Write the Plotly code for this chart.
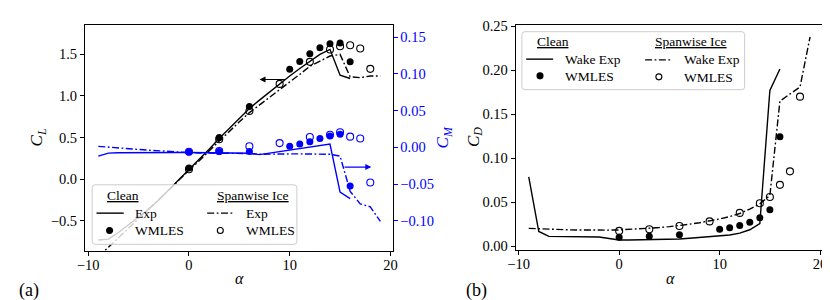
import plotly.graph_objects as go

# ---------------- data ----------------
alpha_exp_clean = list(range(-9, 17))
cl_exp_clean = [-0.73, -0.72, -0.64, -0.55, -0.46, -0.36, -0.25, -0.13, -0.01, 0.12,
                0.24, 0.36, 0.49, 0.61, 0.73, 0.85, 0.95, 1.05, 1.15, 1.24,
                1.33, 1.42, 1.50, 1.56, 1.25, 1.21]
cm_exp_clean = [-0.012, -0.008, -0.0075, -0.0073, -0.0072, -0.0072, -0.0072, -0.0072, -0.0072, -0.0072,
                -0.0073, -0.0074, -0.0075, -0.0076, -0.0078, -0.0082, -0.010, -0.008, -0.006, -0.004,
                -0.002, 0.000, 0.002, 0.0043, -0.061, -0.070]

alpha_exp_ice = list(range(-9, 20))
cl_exp_ice = [-0.93, -0.82, -0.70, -0.59, -0.47, -0.36, -0.24, -0.13, -0.01, 0.10,
              0.22, 0.34, 0.46, 0.57, 0.69, 0.80, 0.89, 0.98, 1.075, 1.17,
              1.26, 1.357, 1.42, 1.48, 1.50, 1.23, 1.22, 1.24, 1.24]
cm_exp_ice = [0.0013, 0.000, -0.001, -0.002, -0.003, -0.004, -0.005, -0.006, -0.0066, -0.0072,
              -0.0078, -0.008, -0.008, -0.008, -0.008, -0.0085, -0.0095, -0.009, -0.009, -0.009,
              -0.009, -0.009, -0.0092, -0.0095, -0.012, -0.060, -0.077, -0.081, -0.101]

alpha_les_clean = [0, 3, 6, 10, 11, 12, 13, 14, 15, 16]
cl_les_clean = [0.136, 0.50, 0.874, 1.32, 1.415, 1.508, 1.578, 1.628, 1.636, 1.41]
cm_les_clean = [-0.0066, -0.0058, -0.0058, 0.0013, 0.0043, 0.0074, 0.0118, 0.0153, 0.0179, -0.0526]
cd_les_clean = [0.0099, 0.011, 0.0128, 0.019, 0.0209, 0.0234, 0.0271, 0.0322, 0.0414, 0.1245]

alpha_les_ice = [0, 3, 6, 9, 12, 14, 15, 16, 17, 18]
cl_les_ice = [0.12, 0.48, 0.82, 1.145, 1.41, 1.558, 1.597, 1.61, 1.57, 1.326]
cm_les_ice = [-0.006, -0.005, 0.0013, 0.0057, 0.014, 0.017, 0.0205, 0.0145, 0.012, -0.048]
cd_les_ice = [0.0172, 0.019, 0.0227, 0.028, 0.0377, 0.0487, 0.0557, 0.0696, 0.085, 0.170]

alpha_cd_clean = [-9, -8, -7, -6, -5, -4, -3, -2, -1, 0, 1, 2, 3, 4, 5, 6, 7, 8, 9, 10, 11, 12, 13, 14, 15, 16]
cd_exp_clean = [0.0788, 0.0165, 0.011, 0.0108, 0.0106, 0.0105, 0.0104, 0.0102, 0.0085, 0.0068,
                0.0068, 0.0069, 0.0071, 0.0073, 0.0076, 0.008, 0.0088, 0.0096, 0.0104, 0.011,
                0.0125, 0.0146, 0.0185, 0.0256, 0.177, 0.2015]
alpha_cd_ice = list(range(-9, 20))
cd_exp_ice = [0.0201, 0.0195, 0.019, 0.0187, 0.0184, 0.0182, 0.018, 0.018, 0.0181, 0.0183,
              0.0188, 0.0194, 0.020, 0.021, 0.022, 0.0232, 0.0248, 0.0265, 0.0285, 0.0308,
              0.0335, 0.037, 0.042, 0.048, 0.0575, 0.165, 0.173, 0.181, 0.238]

xticks = [-10, 0, 10, 20]
xtick_text = ["\u221210", "0", "10", "20"]
cl_ticks = [-0.5, 0.0, 0.5, 1.0, 1.5]
cl_tick_text = ["\u22120.5", "0.0", "0.5", "1.0", "1.5"]
cm_ticks = [-0.10, -0.05, 0.0, 0.05, 0.10, 0.15]
cm_tick_text = ["\u22120.10", "\u22120.05", "0.00", "0.05", "0.10", "0.15"]
cd_ticks = [0.0, 0.05, 0.10, 0.15, 0.20, 0.25]
cd_tick_text = ["0.00", "0.05", "0.10", "0.15", "0.20", "0.25"]

# ---------------- styling ----------------
W, H = 830, 300
FONT = "Liberation Serif, Times New Roman, serif"
LW = 1.4
DASHDOT = "7px,2.5px,1.8px,2.5px"
MS = 7
BLUE = "#0000ff"


def px(x):
    return x / W


def py(y):
    return 1 - y / H


fig = go.Figure()

# ---- left panel: CL ----
fig.add_trace(go.Scatter(x=alpha_exp_clean, y=cl_exp_clean, mode="lines",
                         line=dict(color="black", width=LW), xaxis="x", yaxis="y"))
fig.add_trace(go.Scatter(x=alpha_exp_ice, y=cl_exp_ice, mode="lines",
                         line=dict(color="black", width=LW, dash=DASHDOT), xaxis="x", yaxis="y"))
fig.add_trace(go.Scatter(x=alpha_les_clean, y=cl_les_clean, mode="markers",
                         marker=dict(color="black", size=MS, symbol="circle"), xaxis="x", yaxis="y"))
fig.add_trace(go.Scatter(x=alpha_les_ice, y=cl_les_ice, mode="markers",
                         marker=dict(color="black", size=MS, symbol="circle-open", line=dict(width=1.1)),
                         xaxis="x", yaxis="y"))
# ---- left panel: CM ----
fig.add_trace(go.Scatter(x=alpha_exp_clean, y=cm_exp_clean, mode="lines",
                         line=dict(color=BLUE, width=LW), xaxis="x", yaxis="y2"))
fig.add_trace(go.Scatter(x=alpha_exp_ice, y=cm_exp_ice, mode="lines",
                         line=dict(color=BLUE, width=LW, dash=DASHDOT), xaxis="x", yaxis="y2"))
fig.add_trace(go.Scatter(x=alpha_les_clean, y=cm_les_clean, mode="markers",
                         marker=dict(color=BLUE, size=MS, symbol="circle"), xaxis="x", yaxis="y2"))
fig.add_trace(go.Scatter(x=alpha_les_ice, y=cm_les_ice, mode="markers",
                         marker=dict(color=BLUE, size=MS, symbol="circle-open", line=dict(width=1.1)),
                         xaxis="x", yaxis="y2"))
# ---- right panel: CD ----
fig.add_trace(go.Scatter(x=alpha_cd_clean, y=cd_exp_clean, mode="lines",
                         line=dict(color="black", width=LW), xaxis="x2", yaxis="y3"))
fig.add_trace(go.Scatter(x=alpha_cd_ice, y=cd_exp_ice, mode="lines",
                         line=dict(color="black", width=LW, dash=DASHDOT), xaxis="x2", yaxis="y3"))
fig.add_trace(go.Scatter(x=alpha_les_clean, y=cd_les_clean, mode="markers",
                         marker=dict(color="black", size=MS, symbol="circle"), xaxis="x2", yaxis="y3"))
fig.add_trace(go.Scatter(x=alpha_les_ice, y=cd_les_ice, mode="markers",
                         marker=dict(color="black", size=MS, symbol="circle-open", line=dict(width=1.1)),
                         xaxis="x2", yaxis="y3"))

tickfont = dict(family=FONT, size=14.5, color="black")
common_x = dict(showline=True, linecolor="black", linewidth=1, mirror=True, ticks="outside",
                ticklen=4, tickwidth=1, tickcolor="black", showgrid=False, zeroline=False,
                ticklabelstandoff=-3,
                tickfont=tickfont, tickvals=xticks, ticktext=xtick_text)

fig.update_layout(
    width=W, height=H, margin=dict(l=0, r=0, t=0, b=0),
    paper_bgcolor="white", plot_bgcolor="white", showlegend=False,
    font=dict(family=FONT),
    xaxis=dict(domain=[px(70), px(383)], range=[-10.32, 20.3], anchor="y", **common_x),
    yaxis=dict(domain=[py(245), py(11)], range=[-0.86, 1.857], anchor="x",
               showline=True, linecolor="black", linewidth=1, mirror=True, ticks="outside",
               ticklen=4, tickwidth=1, tickcolor="black", showgrid=False, zeroline=False,
               tickfont=tickfont, tickvals=cl_ticks, ticktext=cl_tick_text),
    yaxis2=dict(overlaying="y", side="right", anchor="x", range=[-0.141, 0.167],
                showline=False, ticks="outside", ticklen=4, tickwidth=1, tickcolor=BLUE,
                showgrid=False, zeroline=False, ticklabelstandoff=-1,
                tickfont=dict(family=FONT, size=14.5, color=BLUE),
                tickvals=cm_ticks, ticktext=cm_tick_text),
    xaxis2=dict(domain=[px(507), px(821)], range=[-10.3, 20.5], anchor="y3", **common_x),
    yaxis3=dict(domain=[py(244), py(11)], range=[-0.0044, 0.252], anchor="x2",
                showline=True, linecolor="black", linewidth=1, mirror=True, ticks="outside",
                ticklen=4, tickwidth=1, tickcolor="black", showgrid=False, zeroline=False,
                tickfont=tickfont, tickvals=cd_ticks, ticktext=cd_tick_text),
)

annotations = []


def text_ann(x, y, text, size=14.5, color="black", angle=0, xanchor="center"):
    annotations.append(dict(x=px(x), y=py(y), xref="paper", yref="paper", text=text,
                            showarrow=False, textangle=angle, xanchor=xanchor, yanchor="middle",
                            font=dict(family=FONT, size=size, color=color)))


# axis titles
text_ann(22, 128, "<i>C</i><sub><i>L</i></sub>", size=17, angle=-90)
text_ann(434, 128, "<i>C</i><sub><i>M</i></sub>", size=17, color=BLUE, angle=-90)
text_ann(465, 127, "<i>C</i><sub><i>D</i></sub>", size=17, angle=-90)
text_ann(226.5, 274, "<i>\u03b1</i>", size=16)
text_ann(664, 274, "<i>\u03b1</i>", size=16)
text_ann(13, 286, "(a)", size=18)
text_ann(467, 286, "(b)", size=18)

# arrows indicating the axis of each curve family
annotations.append(dict(x=7.0, y=1.198, ax=9.74, ay=1.198, xref="x", yref="y", axref="x", ayref="y",
                        showarrow=True, arrowhead=2, arrowsize=1, arrowwidth=1.2, arrowcolor="black",
                        text=""))
annotations.append(dict(x=18.1, y=-0.027, ax=15.3, ay=-0.027, xref="x", yref="y2", axref="x", ayref="y2",
                        showarrow=True, arrowhead=2, arrowsize=1, arrowwidth=1.2, arrowcolor=BLUE,
                        text=""))

shapes = []


def legend_box(x0, y0, x1, y1, r=3):
    X0, X1 = px(x0), px(x1)
    Y0, Y1 = py(y1), py(y0)  # Y0 bottom, Y1 top
    rx, ry = r / W, r / H
    path = (f"M {X0+rx},{Y1} L {X1-rx},{Y1} Q {X1},{Y1} {X1},{Y1-ry} "
            f"L {X1},{Y0+ry} Q {X1},{Y0} {X1-rx},{Y0} L {X0+rx},{Y0} "
            f"Q {X0},{Y0} {X0},{Y0+ry} L {X0},{Y1-ry} Q {X0},{Y1} {X0+rx},{Y1} Z")
    shapes.append(dict(type="path", path=path, xref="paper", yref="paper", layer="above",
                       fillcolor="rgba(255,255,255,0.8)", line=dict(color="#cccccc", width=1)))


def legend_line(x0, x1, y, dash="solid"):
    shapes.append(dict(type="line", xref="paper", yref="paper", x0=px(x0), x1=px(x1), y0=py(y), y1=py(y),
                       layer="above", line=dict(color="black", width=LW, dash=dash)))


def legend_marker(x, y, filled, d=6):
    shapes.append(dict(type="circle", xref="paper", yref="paper", xsizemode="pixel", ysizemode="pixel",
                       xanchor=px(x), yanchor=py(y), x0=-d / 2, x1=d / 2, y0=-d / 2, y1=d / 2,
                       layer="above", fillcolor="black" if filled else "white",
                       line=dict(color="black", width=1.1)))


LEG = 13.5
# left legend
legend_box(77.3, 176.7, 285, 238.3)
text_ann(108.5, 188, "<u>Clean</u>", size=LEG)
text_ann(240, 188, "<u>Spanwise Ice</u>", size=LEG)
legend_line(81.7, 109.3, 206)
text_ann(119, 206, "Exp", size=LEG, xanchor="left")
legend_line(194, 220, 206, DASHDOT)
text_ann(231.5, 206, "Exp", size=LEG, xanchor="left")
legend_marker(95, 224, True)
text_ann(119, 224, "WMLES", size=LEG, xanchor="left")
legend_marker(207.3, 224, False)
text_ann(231.5, 224, "WMLES", size=LEG, xanchor="left")

# right legend
legend_box(513.3, 18.3, 739.3, 78.3)
text_ann(545, 28.5, "<u>Clean</u>", size=LEG)
text_ann(685, 28.5, "<u>Spanwise Ice</u>", size=LEG)
legend_line(517.7, 545, 46.7)
text_ann(555, 46.7, "Wake Exp", size=LEG, xanchor="left")
legend_line(638.3, 665, 47.5, DASHDOT)
text_ann(676, 47.5, "Wake Exp", size=LEG, xanchor="left")
legend_marker(531.7, 64, True)
text_ann(555, 64.5, "WMLES", size=LEG, xanchor="left")
legend_marker(652.3, 65, False)
text_ann(676, 65.5, "WMLES", size=LEG, xanchor="left")

fig.update_layout(annotations=annotations, shapes=shapes)
fig.write_html("out.html")
